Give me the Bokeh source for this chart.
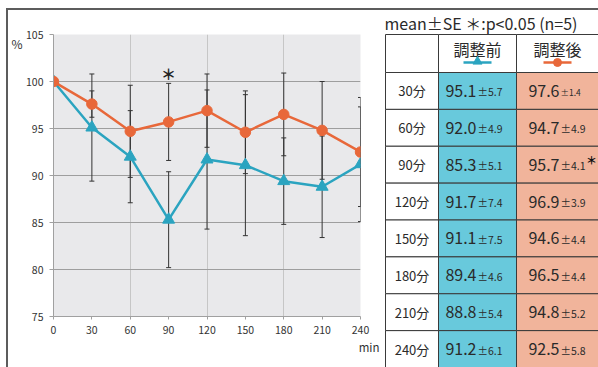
from bokeh.plotting import figure
from bokeh.models import (Range1d, FixedTicker, Whisker, TeeHead, ColumnDataSource, Div,
                          LinearAxis, Title, Spacer)
from bokeh.layouts import row, column
from bokeh.core.properties import value
from bokeh.embed import file_html
from bokeh.resources import INLINE

# ---------------- data ----------------
times = [0, 30, 60, 90, 120, 150, 180, 210, 240]
before_mean = [100.0, 95.1, 92.0, 85.3, 91.7, 91.1, 89.4, 88.8, 91.2]
before_se = [0.0, 5.7, 4.9, 5.1, 7.4, 7.5, 4.6, 5.4, 6.1]
after_mean = [100.0, 97.6, 94.7, 95.7, 96.9, 94.6, 96.5, 94.8, 92.5]
after_se = [0.0, 1.4, 4.9, 4.1, 3.9, 4.4, 4.4, 5.2, 5.8]
row_labels = ["30分", "60分", "90分", "120分", "150分", "180分", "210分", "240分"]
series_names = ["調整前", "調整後"]
sig_time = 90
y_ticks = [75, 80, 85, 90, 95, 100, 105]
y_unit = "%"
x_unit = "min"
note_text = "mean±SE  ＊:p<0.05 (n=5)"

BLUE = "#2ba4c0"
ORANGE = "#e8683a"
CELL_BLUE = "#68c9dc"
CELL_ORANGE = "#f1b49b"
FONT = "Noto Sans CJK JP"
TXT = "#2a2a2a"
FRAME_LINE = "#5c5c5c"

# ---------------- chart ----------------
p = figure(width=374, height=357, x_range=Range1d(0, 240), y_range=Range1d(75, 105),
           output_backend="svg", toolbar_location=None,
           min_border_left=45, min_border_right=22, min_border_top=24, min_border_bottom=51)
p.background_fill_color = "#e9e9eb"
p.border_fill_color = "white"
p.outline_line_color = None

p.xaxis.ticker = FixedTicker(ticks=times)
p.yaxis.ticker = FixedTicker(ticks=y_ticks)
p.xgrid.ticker = FixedTicker(ticks=[60, 120, 180, 240])
p.ygrid.ticker = FixedTicker(ticks=[80, 85, 90, 95, 100, 105])
p.xgrid.grid_line_color = "#c6c6c6"
p.ygrid.grid_line_color = "#9e9e9e"
for ax in (p.xaxis, p.yaxis):
    ax.axis_line_color = "#a0a0a0"
    ax.major_tick_line_color = "#a0a0a0"
    ax.minor_tick_line_color = None
    ax.major_tick_in = 0
    ax.major_label_text_font = FONT
    ax.major_label_text_font_size = "10.5px"
    ax.major_label_text_color = "#333333"
p.yaxis.major_tick_out = 4
p.yaxis.major_label_standoff = 6
p.xaxis.major_tick_out = 3
p.xaxis.major_label_standoff = 6

# unit "%" at the top-left, drawn by a second (bare) left axis
unit_pos = 104
pct_axis = LinearAxis(ticker=FixedTicker(ticks=[unit_pos]),
                      major_label_overrides={unit_pos: y_unit},
                      axis_line_color=None, major_tick_line_color=None,
                      minor_tick_line_color=None, major_tick_out=0, major_tick_in=0,
                      major_label_standoff=1, major_label_text_font=FONT,
                      major_label_text_font_size="12px", major_label_text_color="#333333")
p.add_layout(pct_axis, "left")

# unit "min" below the x axis at the right end
p.add_layout(Title(text=x_unit, align="right", offset=-19, standoff=0, text_font=FONT,
                   text_font_size="11.5px", text_font_style="normal",
                   text_color="#333333"), "below")


def whisker_src(mean, se):
    xs, lo, hi = [], [], []
    for t, m, s in zip(times, mean, se):
        if s > 0:
            xs.append(t)
            lo.append(m - s)
            hi.append(m + s)
    return ColumnDataSource(dict(x=xs, lower=lo, upper=hi))


for mean, se in ((before_mean, before_se), (after_mean, after_se)):
    w = Whisker(source=whisker_src(mean, se), base="x", lower="lower", upper="upper",
                line_color="#333333", line_width=1,
                lower_head=TeeHead(size=5, line_color="#333333", line_width=1),
                upper_head=TeeHead(size=5, line_color="#333333", line_width=1))
    p.add_layout(w)

p.line(times, before_mean, line_color=BLUE, line_width=2.5)
p.scatter(times, before_mean, marker="triangle", size=12, fill_color=BLUE, line_color=BLUE)
p.line(times, after_mean, line_color=ORANGE, line_width=2.5)
p.scatter(times, after_mean, marker="circle", size=10.5, fill_color=ORANGE, line_color=ORANGE)

sig_idx = times.index(sig_time)
p.text(x=[sig_time], y=[after_mean[sig_idx] + after_se[sig_idx] + 1.1], text=["＊"],
       text_font=value(FONT), text_font_size="15px", text_font_style="bold",
       text_align="center", text_baseline="middle", text_color="#222222")

# ---------------- table ----------------
TW, TH = 216, 357
t = figure(width=TW, height=TH, x_range=Range1d(0, TW), y_range=Range1d(TH, 0),
           output_backend="svg", toolbar_location=None, x_axis_type=None, y_axis_type=None,
           min_border=0)
t.outline_line_color = None
t.grid.visible = False
t.background_fill_color = "white"
t.border_fill_color = "white"

col_edges = [3, 56, 134, 218]
top = 24
header_h = 38
n_rows = len(row_labels)
row_h = (TH - top - header_h) / n_rows
row_tops = [top + header_h + i * row_h for i in range(n_rows)]
row_mid = [rt + row_h / 2 for rt in row_tops]

left, right, tops, bottoms, fills = [], [], [], [], []
for c in range(3):
    left.append(col_edges[c]); right.append(col_edges[c + 1])
    tops.append(top); bottoms.append(top + header_h); fills.append("white")
for i in range(n_rows):
    for c, fc in enumerate(["white", CELL_BLUE, CELL_ORANGE]):
        left.append(col_edges[c]); right.append(col_edges[c + 1])
        tops.append(row_tops[i]); bottoms.append(row_tops[i] + row_h); fills.append(fc)
t.quad(left=left, right=right, top=tops, bottom=bottoms, fill_color=fills,
       line_color="#3a3a3a", line_width=1)

t.text(x=[2], y=[12], text=[note_text], text_font=value(FONT), text_font_size="16px",
       text_align="left", text_baseline="middle", text_color=TXT)

col_mid = [(col_edges[0] + col_edges[1]) / 2, (col_edges[1] + col_edges[2]) / 2,
           (col_edges[2] + TW) / 2]
t.text(x=col_mid[1:], y=[top + 14] * 2, text=series_names, text_font=value(FONT),
       text_font_size="16px", text_align="center", text_baseline="middle", text_color=TXT)
leg_y = top + 28
t.segment(x0=[col_mid[1] - 14, col_mid[2] - 14], y0=[leg_y] * 2,
          x1=[col_mid[1] + 14, col_mid[2] + 14], y1=[leg_y] * 2,
          line_color=[BLUE, ORANGE], line_width=2.5)
t.scatter([col_mid[1]], [leg_y - 1], marker="triangle", size=9, fill_color=BLUE, line_color=BLUE)
t.scatter([col_mid[2]], [leg_y], marker="circle", size=8, fill_color=ORANGE, line_color=ORANGE)

t.text(x=[col_mid[0]] * n_rows, y=row_mid, text=row_labels, text_font=value(FONT),
       text_font_size="13px", text_align="center", text_baseline="middle", text_color=TXT)

split = [94, 177]
for k, (mean, se) in enumerate(((before_mean, before_se), (after_mean, after_se))):
    mains = [f"{m:.1f}" for m in mean[1:]]
    ses = [f"±{s:.1f}" for s in se[1:]]
    sizes = ["10.5px"] * n_rows
    if k == 1:
        sizes[0] = "8.5px"
    t.text(x=[split[k]] * n_rows, y=row_mid, text=mains, text_font=value(FONT),
           text_font_size="16px", text_align="right", text_baseline="middle", text_color=TXT)
    src = ColumnDataSource(dict(x=[split[k] + 1] * n_rows, y=[y + 1 for y in row_mid],
                                text=ses, size=sizes))
    t.text(x="x", y="y", text="text", source=src, text_font=value(FONT),
           text_font_size="size", text_align="left", text_baseline="middle", text_color=TXT)

sig_row = times[1:].index(sig_time)
t.text(x=[209], y=[row_mid[sig_row] - 5], text=["＊"], text_font=value(FONT),
       text_font_size="11px", text_font_style="bold", text_align="center",
       text_baseline="middle", text_color="#111111")

# ---------------- page frame & layout ----------------
top_line = Div(text="", width=592, height=2, margin=0,
               styles={"background-color": FRAME_LINE})
left_line = Div(text="", width=2, height=357, margin=0,
                styles={"background-color": FRAME_LINE})
layout = column(Spacer(width=598, height=8, margin=0),
                row(Spacer(width=6, height=2, margin=0), top_line, spacing=0),
                row(Spacer(width=6, height=357, margin=0), left_line, p, column(t, spacing=0),
                    spacing=0),
                spacing=0)

open("out.html", "w").write(file_html(layout, INLINE))
